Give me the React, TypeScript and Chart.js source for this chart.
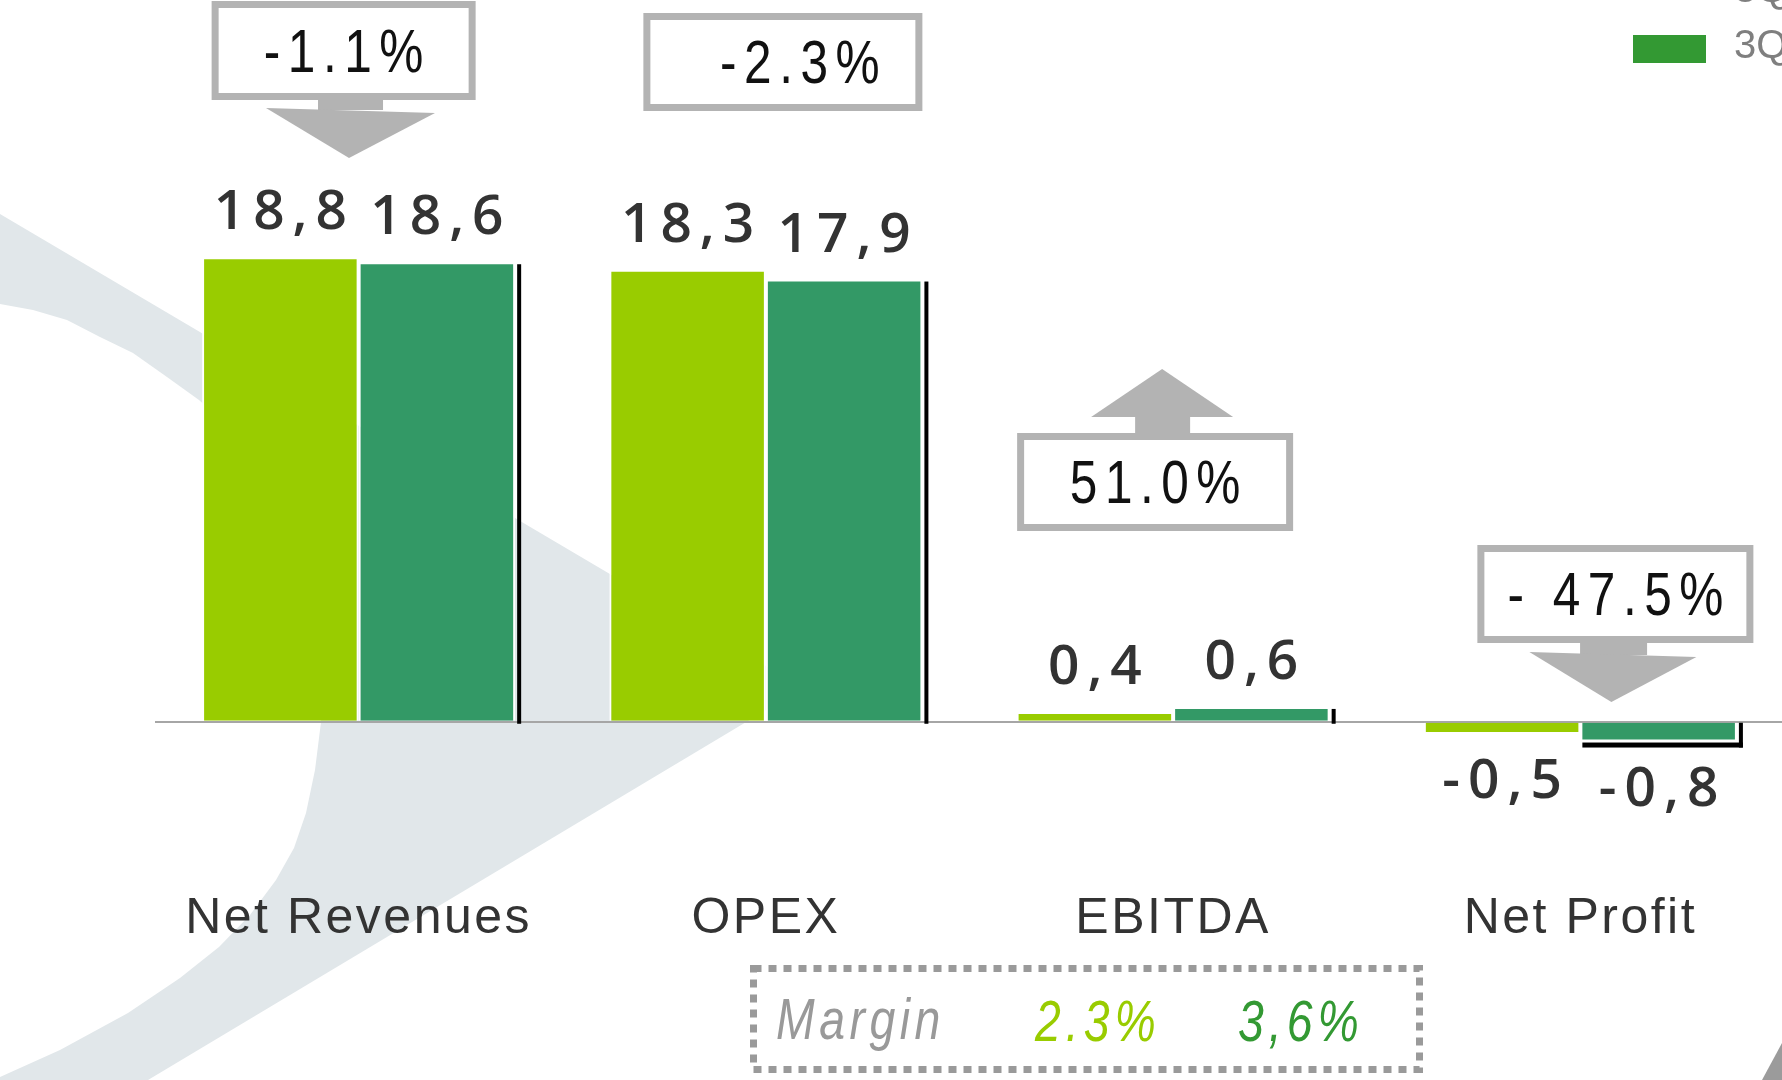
import React, { useEffect, useRef } from 'react';
import { Chart, registerables } from 'chart.js';

Chart.register(...registerables);

// ---------- data ----------
const categories = ['Net Revenues', 'OPEX', 'EBITDA', 'Net Profit'];
const seriesNames = ['3Q15', '3Q16'];
const prevValues = [18.8, 18.3, 0.4, -0.5];
const currValues = [18.6, 17.9, 0.6, -0.8];
const changeLabels = ['-1.1%', '-2.3%', '51.0%', '- 47.5%'];
const changeDirections = ['down', 'none', 'up', 'down'];
const marginLabel = 'Margin';
const marginValues = ['2.3%', '3,6%'];

// ---------- styles ----------
const W = 1790;
const H = 1080;
const LIME = '#99CC00';
const GREEN = '#339966';
const LEGEND_GREEN = '#339933';
const BOX_GREY = '#B3B3B3';
const SWOOSH = '#E1E7EA';
const LABEL_COLOR = '#333333';

// box layout relative to category centre
const boxLayout = [
  { dx: -15, w: 264, top: 1, h: 99, textDx: 0 },
  { dx: 17, w: 279, top: 13, h: 98, textDx: 17 },
  { dx: -18, w: 276, top: 433, h: 98, textDx: 0 },
  { dx: 35, w: 276, top: 545, h: 98, textDx: 0 },
];
const arrowLayout: any[] = [
  { stem: [-40.6, 24.4, 99, 110], head: [[-92.6, 108], [76.4, 113], [-9.6, 158]] },
  null,
  { stem: [-38, 17, 416, 434], head: [[-82, 417], [60, 417], [-11, 369]] },
  { stem: [-0.3, 66.7, 642, 655], head: [[-51, 652], [116, 657], [31, 702]] },
];

function fmt(v: number) {
  return v.toFixed(1).replace('.', ',');
}

function drawText(
  ctx: CanvasRenderingContext2D,
  text: string,
  x: number,
  y: number,
  o: { font: string; color: string; ls?: number; align?: string; sx?: number }
) {
  ctx.save();
  ctx.font = o.font;
  ctx.fillStyle = o.color;
  ctx.textBaseline = 'alphabetic';
  ctx.textAlign = 'left';
  const sx = o.sx ?? 1;
  const ls = (o.ls ?? 0) / sx;
  (ctx as any).letterSpacing = '0px';
  const base = ctx.measureText(text).width;
  const w = (base + ls * (text.length - 1)) * sx;
  (ctx as any).letterSpacing = ls + 'px';
  let start = 0;
  if (o.align === 'center') start = -w / 2;
  else if (o.align === 'right') start = -w;
  ctx.translate(x + start, y);
  ctx.scale(sx, 1);
  ctx.fillText(text, 0, 0);
  ctx.restore();
}

const decorPlugin = {
  id: 'decor',
  beforeDraw(chart: any) {
    const ctx: CanvasRenderingContext2D = chart.ctx;
    ctx.save();
    ctx.fillStyle = '#FFFFFF';
    ctx.fillRect(0, 0, W, H);
    // background swoosh
    ctx.fillStyle = SWOOSH;
    ctx.beginPath();
    ctx.moveTo(0, 214);
    ctx.lineTo(803, 688);
    ctx.lineTo(148, 1080);
    ctx.lineTo(0, 1080);
    const inner = [
      [0, 1077], [60, 1050], [128, 1013], [180, 978], [219, 947], [250, 915], [276, 880],
      [294, 848], [306, 813], [315, 770], [321, 722], [323, 680], [318, 620], [300, 545],
      [270, 480], [235, 432], [199, 400], [167, 377], [133, 353], [100, 337], [67, 320],
      [33, 310], [0, 304],
    ];
    inner.forEach(([x, y]) => ctx.lineTo(x, y));
    ctx.closePath();
    ctx.fill();
    // bottom-right corner shape
    ctx.fillStyle = '#9B9B9B';
    ctx.beginPath();
    ctx.moveTo(1762, 1080);
    ctx.lineTo(1782, 1043);
    ctx.lineTo(1790, 1030);
    ctx.lineTo(1790, 1080);
    ctx.closePath();
    ctx.fill();
    ctx.restore();
    (ctx as any).letterSpacing = '2.5px';
  },
  afterDatasetsDraw(chart: any) {
    const ctx: CanvasRenderingContext2D = chart.ctx;
    (ctx as any).letterSpacing = '0px';
    // shadow lines on second series
    const meta1 = chart.getDatasetMeta(1);
    ctx.save();
    ctx.fillStyle = '#000000';
    meta1.data.forEach((el: any) => {
      const right = el.x + el.width / 2;
      if (el.y <= el.base) {
        ctx.fillRect(right + 2, el.y + 2, 4, el.base + 3 - (el.y + 2));
      } else {
        ctx.fillRect(right + 2, el.base, 4, el.y + 6 - el.base);
        ctx.fillRect(el.x - el.width / 2 + 2, el.y + 1, el.width + 4, 5);
      }
    });
    ctx.restore();
    // value labels
    [0, 1].forEach((di) => {
      const meta = chart.getDatasetMeta(di);
      const vals = di === 0 ? prevValues : currValues;
      meta.data.forEach((el: any, i: number) => {
        const v = vals[i];
        const y = v >= 0 ? el.y - 28 : el.y + 64;
        drawText(ctx, fmt(v), el.x, y, {
          font: '600 55px "Open Sans"',
          color: LABEL_COLOR,
          ls: 8,
          align: 'center',
        });
      });
    });
  },
  afterDraw(chart: any) {
    const ctx: CanvasRenderingContext2D = chart.ctx;
    (ctx as any).letterSpacing = '0px';
    const xs = chart.scales.x;
    categories.forEach((_, i) => {
      const cx = xs.getPixelForValue(i);
      const b = boxLayout[i];
      const left = cx + b.dx - b.w / 2;
      ctx.save();
      // arrow
      const a = arrowLayout[i];
      if (a && changeDirections[i] !== 'none') {
        ctx.fillStyle = BOX_GREY;
        ctx.fillRect(cx + a.stem[0], a.stem[2], a.stem[1] - a.stem[0], a.stem[3] - a.stem[2]);
        ctx.beginPath();
        ctx.moveTo(cx + a.head[0][0], a.head[0][1]);
        ctx.lineTo(cx + a.head[1][0], a.head[1][1]);
        ctx.lineTo(cx + a.head[2][0], a.head[2][1]);
        ctx.closePath();
        ctx.fill();
      }
      // box
      ctx.fillStyle = '#FFFFFF';
      ctx.fillRect(left, b.top, b.w, b.h);
      ctx.strokeStyle = BOX_GREY;
      ctx.lineWidth = 7;
      ctx.strokeRect(left + 3.5, b.top + 3.5, b.w - 7, b.h - 7);
      ctx.restore();
      drawText(ctx, changeLabels[i], cx + b.dx + b.textDx, b.top + b.h / 2 + 21, {
        font: '62px "Liberation Sans"',
        color: '#111111',
        ls: 7.5,
        align: 'center',
        sx: 0.8,
      });
    });

    // margin box
    ctx.save();
    ctx.strokeStyle = '#9A9A9A';
    ctx.lineWidth = 7;
    ctx.setLineDash([8, 7]);
    ctx.strokeRect(753.5, 968.5, 666, 101);
    ctx.restore();
    drawText(ctx, marginLabel, 776, 1039, {
      font: 'italic 58px "Liberation Sans"', color: '#999999', ls: 4.5, sx: 0.8,
    });
    drawText(ctx, marginValues[0], 1035, 1041, {
      font: 'italic 58px "Liberation Sans"', color: LIME, ls: 5, sx: 0.8,
    });
    drawText(ctx, marginValues[1], 1238, 1041, {
      font: 'italic 58px "Liberation Sans"', color: LEGEND_GREEN, ls: 5, sx: 0.8,
    });

    // legend (clipped at the top right)
    ctx.save();
    ctx.fillStyle = LIME;
    ctx.fillRect(1633, -40, 73, 28);
    ctx.fillStyle = LEGEND_GREEN;
    ctx.fillRect(1633, 35, 73, 28);
    ctx.restore();
    drawText(ctx, seriesNames[0], 1734, 2, { font: '40px "Liberation Sans"', color: '#7F7F7F' });
    drawText(ctx, seriesNames[1], 1734, 58, { font: '40px "Liberation Sans"', color: '#7F7F7F' });
  },
};

export default function App() {
  const ref = useRef<HTMLCanvasElement>(null);
  useEffect(() => {
    const canvas = ref.current as HTMLCanvasElement;
    const chart = new Chart(canvas, {
      type: 'bar',
      data: {
        labels: categories,
        datasets: [
          {
            label: seriesNames[0],
            data: prevValues,
            backgroundColor: LIME,
            borderColor: '#FFFFFF',
            borderWidth: 2,
            categoryPercentage: 0.7687,
            barPercentage: 1,
          },
          {
            label: seriesNames[1],
            data: currValues,
            backgroundColor: GREEN,
            borderColor: '#FFFFFF',
            borderWidth: 2,
            categoryPercentage: 0.7687,
            barPercentage: 1,
          },
        ],
      },
      options: {
        responsive: false,
        animation: false,
        devicePixelRatio: 1,
        layout: { padding: { left: 155, right: 6, top: 30, bottom: 0 } },
        plugins: {
          legend: { display: false },
          tooltip: { enabled: false },
          title: { display: false },
        },
        scales: {
          x: {
            type: 'category',
            grid: { display: false, drawTicks: false },
            border: { display: false },
            ticks: {
              color: LABEL_COLOR,
              font: { family: 'Liberation Sans', size: 50 },
              padding: 19,
              maxRotation: 0,
              autoSkip: false,
            },
            afterFit: (s: any) => {
              s.height = 210;
            },
          },
          y: {
            min: -6,
            max: 28,
            border: { display: false },
            ticks: { display: false, stepSize: 2 },
            grid: {
              drawTicks: false,
              lineWidth: 2,
              color: (c: any) => (c.tick && c.tick.value === 0 ? '#A6A6A6' : 'rgba(0,0,0,0)'),
            },
            afterFit: (s: any) => {
              s.width = 0;
            },
          },
        },
      } as any,
      plugins: [decorPlugin],
    });
    return () => chart.destroy();
  }, []);
  return (
    <div
      style={{
        position: 'fixed',
        left: 0,
        top: 0,
        width: 1782,
        height: 1080,
        overflow: 'hidden',
        background: '#FFFFFF',
      }}
    >
      <canvas ref={ref} width={W} height={H} style={{ display: 'block', width: W, height: H }} />
    </div>
  );
}
